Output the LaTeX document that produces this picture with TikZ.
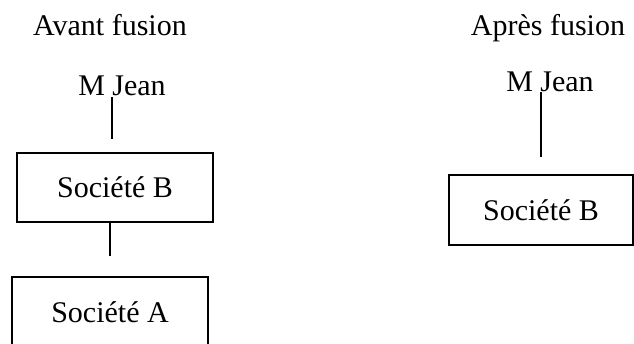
\documentclass[tikz,border=0pt]{standalone}
\usepackage{fontspec}
\setmainfont{Liberation Serif}
\usetikzlibrary{positioning}

\begin{document}
\begin{tikzpicture}[
  x=1pt, y=-1pt,
  font=\fontsize{30}{36}\selectfont,
  lab/.style  = {inner sep=0pt, anchor=base},
  firm/.style = {draw=black, line width=1.8pt, inner sep=0pt, minimum height=70pt},
  link/.style = {draw=black, line width=1.6pt},
]
\useasboundingbox (0,0) rectangle (634,343);

% ---------- before ----------
\node[lab] (avant) at (110,35) {Avant fusion};
\node[lab] (jeanL) at (122,95) {M Jean};
\node[firm, minimum width=196pt, minimum height=69pt] (socBL) at (115,187.5) {Société B};
\node[firm, minimum width=196pt] (socAL) at (110,312) {Société A};

% ---------- after ----------
\node[lab] (apres) at (548,35) {Après fusion};
\node[lab] (jeanR) at (550,91) {M Jean};
\node[firm, minimum width=184pt] (socBR) at (541,210) {Société B};

% ---------- links ----------
\draw[link] ([xshift=-10pt,yshift=-2pt]jeanL.south) -- ([xshift=-3pt,yshift=13pt]socBL.north);
\draw[link] ([xshift=-5pt,yshift=2pt]socBL.south) -- ([yshift=20pt]socAL.north);
\draw[link] ([xshift=-9pt,yshift=-1pt]jeanR.south) -- ([yshift=17pt]socBR.north);

\end{tikzpicture}
\end{document}
